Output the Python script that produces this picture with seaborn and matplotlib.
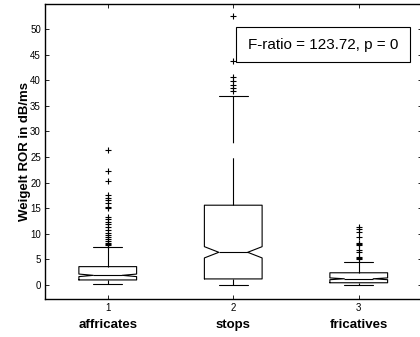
import matplotlib
matplotlib.use("Agg")
import matplotlib.pyplot as plt
import matplotlib.transforms as mtransforms
from matplotlib.patches import Rectangle
import seaborn as sns
import pandas as pd

# ---- data -------------------------------------------------------------
categories = ["affricates", "stops", "fricatives"]
tick_labels = ["1", "2", "3"]
q1 = [1.0, 1.2, 0.45]
medians = [1.9, 6.4, 1.23]
q3 = [3.6, 15.6, 2.4]
whisker_low = [0.25, 0.0, 0.06]
whisker_high = [7.5, 37.0, 4.6]
notch_low = [1.65, 5.3, 1.05]
notch_high = [2.15, 7.5, 1.4]
outliers_affricates = [26.4, 22.3, 20.4, 17.6, 17.1, 16.6, 16.0, 15.3, 15.0,
                       13.2, 12.9, 12.4, 12.0, 11.4, 10.8, 10.2, 9.8, 9.3,
                       9.0, 8.6, 8.3, 8.0, 7.8]
outliers_stops = [52.6, 43.75, 40.6, 39.8, 39.1, 38.4, 37.95]
outliers_fricatives = [11.4, 10.9, 10.4, 9.3, 8.2, 8.0, 7.8, 6.8, 6.5,
                       5.4, 5.2, 5.0]
stat_text = "F-ratio = 123.72, p = 0"

# ---- style ------------------------------------------------------------
sns.set_style("ticks", {"xtick.direction": "in", "ytick.direction": "in"})
plt.rcParams["font.family"] = ["Liberation Sans", "DejaVu Sans"]
plt.rcParams["lines.scale_dashes"] = False
plt.rcParams["text.color"] = "black"
plt.rcParams["axes.labelcolor"] = "black"
plt.rcParams["xtick.color"] = "black"
plt.rcParams["ytick.color"] = "black"
plt.rcParams["axes.edgecolor"] = "black"

W, H = 420, 337
fig = plt.figure(figsize=(W / 100, H / 100), dpi=100)
ax_left, ax_right, ax_top, ax_bottom = 45, 421.5, 4, 299.3
ax = fig.add_axes([ax_left / W, (H - ax_bottom) / H,
                   (ax_right - ax_left) / W, (ax_bottom - ax_top) / H])

positions = list(range(1, len(categories) + 1))
stats = []
for i, name in enumerate(categories):
    stats.append(dict(label=tick_labels[i], med=medians[i], q1=q1[i], q3=q3[i],
                      whislo=whisker_low[i], whishi=whisker_high[i],
                      cilo=notch_low[i], cihi=notch_high[i], fliers=[]))

line_kw = dict(color="black", linewidth=0.8)
ax.bxp(stats, positions=positions, widths=0.46, capwidths=0.23,
       shownotches=True, showfliers=False,
       boxprops=line_kw, capprops=line_kw, medianprops=line_kw,
       whiskerprops=dict(color="black", linewidth=0.8,
                         linestyle=(0, (34, 10.8))))

# outliers as '+' markers
outlier_df = pd.DataFrame({
    "group": [1] * len(outliers_affricates) + [2] * len(outliers_stops)
             + [3] * len(outliers_fricatives),
    "value": outliers_affricates + outliers_stops + outliers_fricatives,
})
sns.scatterplot(data=outlier_df, x="group", y="value", marker="+", s=22,
                color="black", linewidth=0.8, ax=ax, legend=False, zorder=3)

# ---- axes -------------------------------------------------------------
ax.set_xlim(0.5, 3.5)
ax.set_ylim(-2.78, 54.9)
ax.set_xticks(positions)
ax.set_xticklabels(tick_labels)
ax.set_yticks(range(0, 51, 5))
ax.tick_params(axis="both", which="both", direction="in", length=3,
               width=0.6, labelsize=7, top=True, right=True, color="black",
               labelcolor="black")
ax.tick_params(axis="x", pad=3)
ax.tick_params(axis="y", pad=3)
for sp in ax.spines.values():
    sp.set_visible(True)
    sp.set_linewidth(1.0)
    sp.set_color("black")
ax.set_xlabel("")
ax.set_ylabel("Weigelt ROR in dB/ms", fontsize=9.5, fontweight="bold",
              labelpad=-1, color="black")

trans = mtransforms.blended_transform_factory(ax.transData, ax.transAxes)
cat_y = (ax_bottom - 325) / (ax_bottom - ax_top)
for pos, name in zip(positions, categories):
    ax.text(pos, cat_y, name, transform=trans, ha="center", va="center",
            fontsize=9.5, fontweight="bold", color="black")

# statistics box
def ax_frac_x(px):
    return (px - ax_left) / (ax_right - ax_left)

def ax_frac_y(py):
    return (ax_bottom - py) / (ax_bottom - ax_top)

bx0, bx1, by0, by1 = ax_frac_x(236), ax_frac_x(410), ax_frac_y(62.3), ax_frac_y(26.7)
ax.add_patch(Rectangle((bx0, by0), bx1 - bx0, by1 - by0, transform=ax.transAxes,
                       facecolor="white", edgecolor="black", linewidth=0.8,
                       zorder=4))
ax.text((bx0 + bx1) / 2, (by0 + by1) / 2, stat_text, transform=ax.transAxes,
        ha="center", va="center", fontsize=11, zorder=5, color="black")

fig.savefig("out.png", dpi=100)
